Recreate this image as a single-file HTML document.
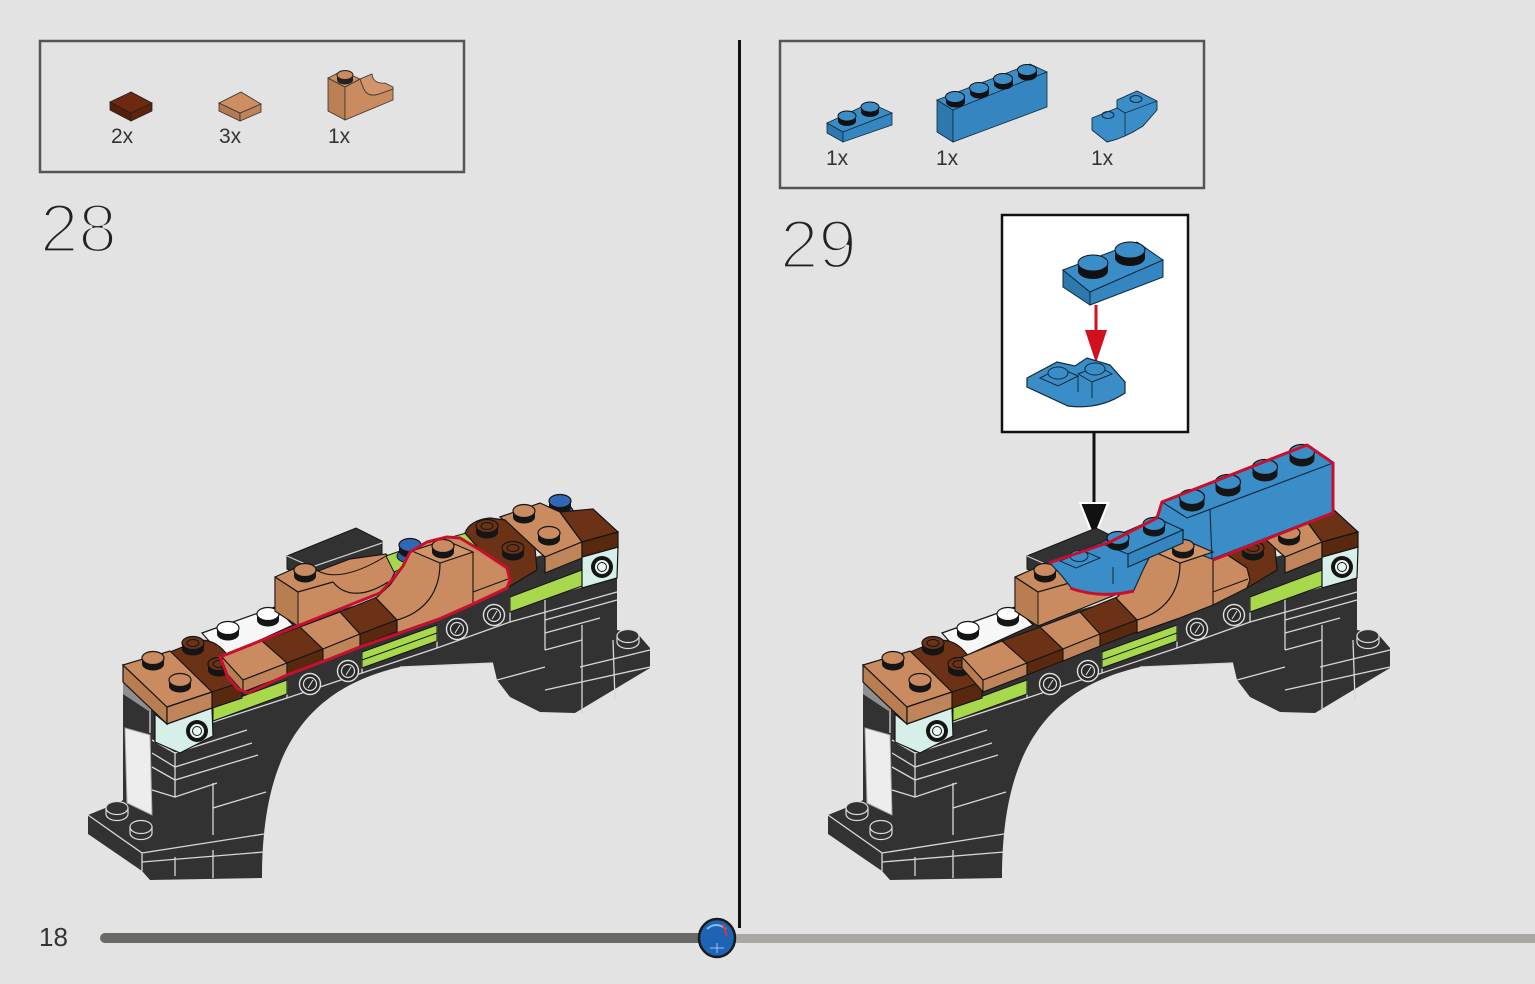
<!DOCTYPE html>
<html><head><meta charset="utf-8"><style>
html,body{margin:0;padding:0;background:#e3e3e3;}
svg{display:block;}
text{font-family:"Liberation Sans",Arial,sans-serif;}
</style></head><body>
<svg width="1535" height="984" viewBox="0 0 1535 984" xmlns="http://www.w3.org/2000/svg">
<defs>
<g id="st"><path d="M-11,0 v6 a11,6.5 0 0 0 22,0 v-6 z" fill="#151515"/><ellipse rx="11" ry="6.5" stroke="#151515" stroke-width="1.2"/></g>
<g id="sth"><path d="M-11,0 v6 a11,6.5 0 0 0 22,0 v-6 z" fill="#151515"/><ellipse rx="11" ry="6.5" stroke="#151515" stroke-width="1.2"/><ellipse rx="6" ry="3.5" fill="none" stroke="#151515" stroke-width="1"/></g>
<g id="stb"><path d="M-12.5,0 v7 a12.5,7.5 0 0 0 25,0 v-7 z" fill="#151515"/><ellipse rx="12.5" ry="7.5" stroke="#151515" stroke-width="1.2"/></g>
<g id="std"><path d="M-11,0 v6 a11,6.5 0 0 0 22,0 v-6 z" fill="#323232" stroke="#dcdcdc" stroke-width="1.2"/><ellipse rx="11" ry="6.5" fill="#323232" stroke="#dcdcdc" stroke-width="1.2"/></g>
<g id="hole"><circle r="10.5" fill="#2a2a2a" stroke="#e0e0e0" stroke-width="1.4"/><circle r="6.5" fill="none" stroke="#e0e0e0" stroke-width="1.2"/><path d="M-2,4 L3,-4" stroke="#e0e0e0" stroke-width="1"/></g>
<g id="holet"><circle r="11" fill="#151515"/><circle r="7.5" fill="#eaf6f3" stroke="#151515" stroke-width="1"/><circle r="4.5" fill="none" stroke="#151515" stroke-width="1"/></g>

<g id="brA">
<polygon points="287,556 356,528 382,541 382,557 312,580 287,569" fill="#323232" stroke="#151515"/>
<polyline points="287,556 312,567 382,543" fill="none" stroke="#d0d0d0" stroke-width="1.2"/>
<path d="M123,668 L617,535 L617,630 L637,633 L650,648 L650,668 L575,713 L540,712 L510,697 L497,680 L493,663 L400,667 C300,690 262,760 262,878 L150,880 L142,871 L88,834 L88,815 L120,802 L123,800 Z" fill="#323232"/>
<g fill="none" stroke="#d8d8d8" stroke-width="1.3">
<path d="M150,700 L150,733"/>
<path d="M152,740 L175,753 L247,730"/>
<path d="M152,753 L175,767 L252,743"/>
<path d="M152,767 L175,780 L258,755"/>
<path d="M175,753 L175,797 L217,783"/>
<path d="M152,790 L175,797"/>
<path d="M213,783 L213,835"/>
<path d="M213,808 L266,792"/>
<path d="M88,815 L142,853 L142,871"/>
<path d="M142,853 L264,834"/>
<path d="M142,862 L264,852"/>
<path d="M175,857 L175,876"/>
<path d="M213,850 L213,878"/>
<path d="M213,722 L287,698 L437,648 L510,622 L617,592"/>
<path d="M287,680 L287,698 M362,652 L362,673 M437,625 L437,648 M510,597 L510,622"/>
<path d="M400,667 L493,663"/>
<path d="M545,597 L617,577 M545,620 L617,600 M545,633 L600,618 M545,597 L545,650 M545,650 L582,640 M582,625 L582,713 M580,667 L650,650 M545,690 L650,667 M613,640 L615,700 M497,680 L545,667"/>
</g>
<use href="#std" x="117" y="808"/>
<use href="#std" x="141" y="827"/>
<use href="#std" x="628" y="636"/>
<polygon points="123,682 150,700 150,712 123,694" fill="#8f8f8f"/>
<polygon points="125,728 150,735 152,815 127,803" fill="#ededed" stroke="#aaa" stroke-width="1"/>
<polygon points="155,714 167,724 212,708 213,736 180,753 155,742" fill="#d6efe9" stroke="#151515" stroke-width="1.2"/>
<use href="#holet" x="197" y="731"/>
<g fill="#a8d94d" stroke="#151515" stroke-width="1">
<polygon points="213,707 287,680 287,694 213,721"/>
<polygon points="362,652 437,625 437,641 362,668"/>
<polygon points="510,597 582,570 582,586 510,612"/>
</g>
<line x1="362" y1="660" x2="437" y2="633" stroke="#151515"/>
<use href="#hole" x="310" y="684"/>
<use href="#hole" x="348" y="671"/>
<use href="#hole" x="457" y="629"/>
<use href="#hole" x="494" y="615"/>
<polygon points="582,557 618,547 617,578 582,588" fill="#d6efe9" stroke="#151515" stroke-width="1.2"/>
<use href="#holet" x="602" y="567"/>
<polygon points="202,633 275,607 293,625 223,657" fill="#f7f7f7" stroke="#151515" stroke-width="1.2"/>
<use href="#st" x="228" y="628" fill="#ffffff"/>
<use href="#st" x="268" y="614" fill="#ffffff"/>
<path d="M170,652 L200,640 Q215,640 225,652 L242,672 L242,698 L212,708 L212,692 Z" fill="#6b3216" stroke="#151515" stroke-width="1.2"/>
<polygon points="212,692 242,682 242,698 212,708" fill="#58280f" stroke="#151515" stroke-width="1"/>
<use href="#sth" x="193" y="643" fill="#6b3216"/>
<use href="#sth" x="219" y="664" fill="#6b3216"/>
<polygon points="123,665 167,707 167,724 123,682" fill="#b97d52" stroke="#151515" stroke-width="1.2"/>
<polygon points="123,665 170,651 212,692 167,707" fill="#c98b5f" stroke="#151515" stroke-width="1.2"/>
<polygon points="167,707 212,692 212,708 167,724" fill="#c0845a" stroke="#151515" stroke-width="1.2"/>
<use href="#st" x="153" y="658" fill="#c98b5f"/>
<use href="#st" x="180" y="680" fill="#c98b5f"/>
<polygon points="275,577 300,566 318,571 350,559 386,554 398,566 390,582 380,593 298,626 275,611" fill="#c98b5f" stroke="#151515" stroke-width="1.2"/>
<polygon points="275,577 298,592 298,626 275,611" fill="#b97d52" stroke="#151515" stroke-width="1"/>
<polyline points="275,577 298,592 333,582" fill="none" stroke="#151515" stroke-width="1.2"/>
<path d="M333,582 C345,597 365,597 388,582" fill="none" stroke="#151515" stroke-width="1.2"/>
<path d="M318,571 C335,580 360,572 386,556" fill="none" stroke="#151515" stroke-width="1"/>
<use href="#st" x="305" y="570" fill="#c98b5f"/>
</g>

<g id="brB">
<ellipse cx="560" cy="511" rx="13" ry="7" fill="#2a5ea8" stroke="#151515"/>
<use href="#st" x="560" y="501" fill="#2f68b8"/>
<polygon points="500,517 540,503 560,512 582,542 545,557" fill="#c98b5f" stroke="#151515" stroke-width="1.2"/>
<polygon points="545,557 582,542 582,558 545,573" fill="#c0845a" stroke="#151515" stroke-width="1.2"/>
<use href="#st" x="524" y="511" fill="#c98b5f"/>
<use href="#st" x="549" y="533" fill="#c98b5f"/>
<path d="M465,533 Q470,520 490,518 L505,520 L535,548 L537,570 L512,585 L507,588 L507,568 L480,550 Z" fill="#6b3216" stroke="#151515" stroke-width="1.2"/>
<use href="#sth" x="487" y="526" fill="#6b3216"/>
<use href="#sth" x="513" y="548" fill="#6b3216"/>
<polygon points="560,512 593,509 618,532 582,542" fill="#6b3216" stroke="#151515" stroke-width="1.2"/>
<polygon points="582,542 618,532 618,547 582,557" fill="#58280f" stroke="#151515" stroke-width="1.2"/>
<g stroke="#151515" stroke-width="1.1">
<polygon points="222,657 243,680 243,692 222,668" fill="#b97d52"/>
<polygon points="222,657 262,641 287,663 243,680" fill="#c98b5f"/>
<polygon points="243,680 287,663 287,675 243,692" fill="#c0845a"/>
<polygon points="262,641 300,627 323,649 287,663" fill="#6b3216"/>
<polygon points="287,663 323,649 323,661 287,675" fill="#58280f"/>
<polygon points="300,627 340,612 360,634 323,649" fill="#c98b5f"/>
<polygon points="323,649 360,634 360,646 323,661" fill="#c0845a"/>
<polygon points="340,612 377,597 397,620 360,634" fill="#6b3216"/>
<polygon points="360,634 397,620 397,632 360,646" fill="#58280f"/>
</g>
<polygon points="376,598 390,585 403,567 410,552 427,542 447,537 460,538 480,550 507,568 510,580 507,588 473,605 437,619 397,633 397,620" fill="#c98b5f" stroke="#151515" stroke-width="1.2"/>
<polygon points="412,551 445,540 473,552 440,563" fill="#d29569" stroke="#151515" stroke-width="1.1"/>
<path d="M440,563 C440,592 425,612 397,620" fill="none" stroke="#151515" stroke-width="1.2"/>
<line x1="473" y1="552" x2="473" y2="605" stroke="#151515" stroke-width="1.1"/>
<line x1="473" y1="592" x2="508" y2="579" stroke="#151515" stroke-width="1.1"/>
<use href="#st" x="443" y="546" fill="#c98b5f"/>
</g>
</defs>

<rect width="1535" height="984" fill="#e3e3e3"/>

<!-- ===== STEP 28 ===== -->
<rect x="40" y="41" width="424" height="131" fill="none" stroke="#555" stroke-width="2.5"/>
<polygon points="110,102 110,110 131,121 131,113" fill="#551f0a" stroke="#222" stroke-width="0.8"/>
<polygon points="131,113 131,121 152,111 152,103" fill="#5e240c" stroke="#222" stroke-width="0.8"/>
<polygon points="110,102 131,92 152,103 131,113" fill="#6e2a10" stroke="#222" stroke-width="0.8"/>
<polygon points="219,103 219,111 240,121 240,113" fill="#b57a50" stroke="#333" stroke-width="0.8"/>
<polygon points="240,113 240,121 261,112 261,104" fill="#bf8357" stroke="#333" stroke-width="0.8"/>
<polygon points="219,103 241,92 261,104 240,113" fill="#cd8f62" stroke="#333" stroke-width="0.8"/>
<polygon points="328,78 345,87 345,120 328,111" fill="#bb7f54" stroke="#333" stroke-width="0.8"/>
<path d="M345,87 L360,79 L363,87 Q367,98 379,94 L393,89 L393,100 L345,120 Z" fill="#c98b5f" stroke="#333" stroke-width="0.8"/>
<path d="M360,79 L372,74 Q373,84 385,83 L393,87 L393,89 L379,94 Q367,98 363,87 Z" fill="#d29569" stroke="#333" stroke-width="0.8"/>
<polygon points="328,78 342,71 360,79 345,87" fill="#cd8f62" stroke="#333" stroke-width="0.8"/>
<path d="M337,75 v5 a8,4.5 0 0 0 16,0 v-5 z" fill="#222"/>
<ellipse cx="345" cy="75" rx="8" ry="4.5" fill="#c98b5f" stroke="#222" stroke-width="1"/>
<text x="111" y="143" font-size="21" fill="#333">2x</text>
<text x="219" y="143" font-size="21" fill="#333">3x</text>
<text x="328" y="143" font-size="21" fill="#333">1x</text>

<text x="40" y="252" font-size="69" fill="#222" stroke="#e3e3e3" stroke-width="3.2">28</text>

<use href="#brA"/>
<polygon points="386,556 400,551 408,566 394,572" fill="#a8d94d" stroke="#151515"/>
<polygon points="452,537 466,533 478,545 470,549" fill="#a8d94d" stroke="#151515"/>
<ellipse cx="410" cy="556" rx="13" ry="7" fill="#2a5ea8" stroke="#151515"/>
<use href="#st" x="410" y="545" fill="#2f68b8"/>
<use href="#brB"/>
<path d="M220,657 L380,593 L392,580 L403,566 L410,552 L427,542 L447,537 L460,538 L480,550 L507,568 L510,580 L507,588 L473,604 L437,620 L400,633 L360,647 L327,660 L287,675 L248,693 L238,689 L228,677 Z" fill="none" stroke="#c8102e" stroke-width="3" stroke-linejoin="round"/>

<line x1="739.5" y1="40" x2="739.5" y2="928" stroke="#111" stroke-width="3"/>

<!-- ===== STEP 29 ===== -->
<rect x="780" y="41" width="424" height="147" fill="none" stroke="#555" stroke-width="2.5"/>
<polygon points="827,123 843,132 843,142 827,133" fill="#2f78ad" stroke="#102a3c" stroke-width="0.8"/>
<polygon points="827,123 870,103 892,113 843,132" fill="#3b8dc8" stroke="#102a3c" stroke-width="0.8"/>
<polygon points="843,132 892,113 892,125 843,142" fill="#3586c0" stroke="#102a3c" stroke-width="0.8"/>
<path d="M838,116 v5 a9,5 0 0 0 18,0 v-5 z" fill="#111"/><ellipse cx="847" cy="116" rx="9" ry="5" fill="#3b8dc8" stroke="#111"/>
<path d="M861,107 v5 a9,5 0 0 0 18,0 v-5 z" fill="#111"/><ellipse cx="870" cy="107" rx="9" ry="5" fill="#3b8dc8" stroke="#111"/>
<polygon points="937,100 953,110 953,142 937,132" fill="#2f78ad" stroke="#102a3c" stroke-width="0.8"/>
<polygon points="937,100 1030,64 1047,72 953,110" fill="#3b8dc8" stroke="#102a3c" stroke-width="0.8"/>
<polygon points="953,110 1047,72 1047,107 953,142" fill="#3586c0" stroke="#102a3c" stroke-width="0.8"/>
<path d="M946,97 v5 a9.5,5.5 0 0 0 19,0 v-5 z" fill="#111"/><ellipse cx="955" cy="97" rx="9.5" ry="5.5" fill="#3b8dc8" stroke="#111"/>
<path d="M970,88 v5 a9.5,5.5 0 0 0 19,0 v-5 z" fill="#111"/><ellipse cx="979" cy="88" rx="9.5" ry="5.5" fill="#3b8dc8" stroke="#111"/>
<path d="M994,79 v5 a9.5,5.5 0 0 0 19,0 v-5 z" fill="#111"/><ellipse cx="1003" cy="79" rx="9.5" ry="5.5" fill="#3b8dc8" stroke="#111"/>
<path d="M1018,70 v5 a9.5,5.5 0 0 0 19,0 v-5 z" fill="#111"/><ellipse cx="1027" cy="70" rx="9.5" ry="5.5" fill="#3b8dc8" stroke="#111"/>
<path d="M1092,118 L1117,108 L1117,100 L1137,91 L1157,101 L1157,110 L1143,126 Q1125,138 1107,142 L1092,130 Z" fill="#3b8dc8" stroke="#102a3c" stroke-width="0.9"/>
<ellipse cx="1108" cy="115" rx="6" ry="3.5" fill="none" stroke="#102a3c"/>
<ellipse cx="1136" cy="99" rx="6" ry="3.5" fill="none" stroke="#102a3c"/>
<path d="M1117,108 L1125,113 L1157,101 M1125,113 L1125,135" fill="none" stroke="#102a3c" stroke-width="0.8"/>
<text x="826" y="165" font-size="21" fill="#333">1x</text>
<text x="936" y="165" font-size="21" fill="#333">1x</text>
<text x="1091" y="165" font-size="21" fill="#333">1x</text>

<text x="780" y="268" font-size="69" fill="#222" stroke="#e3e3e3" stroke-width="3.2">29</text>

<rect x="1002" y="215" width="186" height="217" fill="#ffffff" stroke="#111" stroke-width="2.5"/>
<polygon points="1063,270 1090,292 1090,305 1063,287" fill="#2f78ad" stroke="#102a3c"/>
<polygon points="1063,270 1137,242 1163,260 1090,292" fill="#3b8dc8" stroke="#102a3c"/>
<polygon points="1090,292 1163,260 1163,277 1090,305" fill="#3586c0" stroke="#102a3c"/>
<path d="M1078,263 v8 a15,8 0 0 0 30,0 v-8 z" fill="#111"/><ellipse cx="1093" cy="263" rx="15" ry="8" fill="#3b8dc8" stroke="#111"/>
<path d="M1115,250 v8 a15,8 0 0 0 30,0 v-8 z" fill="#111"/><ellipse cx="1130" cy="250" rx="15" ry="8" fill="#3b8dc8" stroke="#111"/>
<line x1="1096" y1="305" x2="1096" y2="336" stroke="#d0101e" stroke-width="3"/>
<polygon points="1085,330 1107,330 1096,363" fill="#d0101e"/>
<path d="M1027,378 L1057,362 L1075,366 L1087,358 L1110,365 L1125,382 L1125,393 Q1100,410 1068,406 L1027,387 Z" fill="#3b8dc8" stroke="#102a3c" stroke-width="1.2"/>
<polygon points="1040,378 1060,368 1078,376 1058,386" fill="none" stroke="#102a3c"/>
<ellipse cx="1058" cy="373" rx="10" ry="6" fill="#3b8dc8" stroke="#102a3c"/>
<polygon points="1078,374 1098,366 1112,374 1092,382" fill="none" stroke="#102a3c"/>
<ellipse cx="1095" cy="369" rx="10" ry="6" fill="#3b8dc8" stroke="#102a3c"/>
<path d="M1092,382 L1092,398 M1078,376 L1078,392" fill="none" stroke="#102a3c"/>

<line x1="1094" y1="432" x2="1094" y2="507" stroke="#111" stroke-width="3"/>
<polygon points="1080,503 1108,503 1094,538" fill="#111" stroke="#fff" stroke-width="2"/>

<g transform="translate(740,0)">
<use href="#brA"/>
<use href="#brB"/>
</g>

<!-- blue parts step 29 -->
<polygon points="1150,520 1157,516 1162,502 1307,445 1333,463 1333,512 1212,559 1183,548 1183,530" fill="#3b8dc8" stroke="#102a3c" stroke-width="1.2"/>
<polyline points="1162,502 1187,518 1333,463" fill="none" stroke="#102a3c" stroke-width="1.2"/>
<line x1="1210" y1="509" x2="1212" y2="559" stroke="#102a3c" stroke-width="1.1"/>
<use href="#stb" x="1192" y="497" fill="#3b8dc8"/>
<use href="#stb" x="1228" y="482" fill="#3b8dc8"/>
<use href="#stb" x="1265" y="467" fill="#3b8dc8"/>
<use href="#stb" x="1302" y="452" fill="#3b8dc8"/>
<polygon points="1152,551 1185,540 1213,552 1180,563" fill="#d29569" stroke="#151515" stroke-width="1.1"/>
<use href="#st" x="1183" y="546" fill="#c98b5f"/>
<path d="M1050,563 L1100,543 L1140,547 L1152,552 L1143,570 L1134,590 Q1105,598 1073,590 L1062,576 Z" fill="#3b8dc8" stroke="#102a3c" stroke-width="1.2"/>
<polygon points="1100,543 1157,518 1183,530 1128,554" fill="#3b8dc8" stroke="#102a3c" stroke-width="1.2"/>
<polygon points="1128,554 1183,530 1183,543 1128,567" fill="#3586c0" stroke="#102a3c" stroke-width="1.2"/>
<polygon points="1060,561 1084,551 1100,558 1076,568" fill="none" stroke="#102a3c"/>
<ellipse cx="1079" cy="556" rx="9" ry="5.5" fill="#3b8dc8" stroke="#102a3c"/>
<line x1="1113" y1="567" x2="1113" y2="584" stroke="#102a3c"/>
<use href="#st" x="1118" y="538" fill="#3b8dc8"/>
<use href="#st" x="1154" y="524" fill="#3b8dc8"/>
<polyline points="1049,563 1110,542 1157,518 1162,502 1307,445 1333,463 1333,513 1213,560" fill="none" stroke="#c8102e" stroke-width="3" stroke-linejoin="round"/>
<path d="M1070,588 Q1100,599 1134,591" fill="none" stroke="#c8102e" stroke-width="3"/>

<!-- footer -->
<text x="39" y="946" font-size="26" fill="#333">18</text>
<rect x="718" y="934" width="817" height="9" fill="#aba7a3"/>
<rect x="100" y="933" width="620" height="10" rx="5" fill="#6a6966"/>
<ellipse cx="717" cy="938" rx="18" ry="19" fill="#1d64b5" stroke="#1a1a1a" stroke-width="2.5"/>
<path d="M707,929 Q716,921 726,929" stroke="#8fbbe8" fill="none" stroke-width="2"/>
<path d="M723,924 L727,936" stroke="#d33" stroke-width="2"/>
<path d="M717,943 L717,953 M710,948 L724,948" stroke="#9cc4ee" stroke-width="1"/>
</svg>
</body></html>
